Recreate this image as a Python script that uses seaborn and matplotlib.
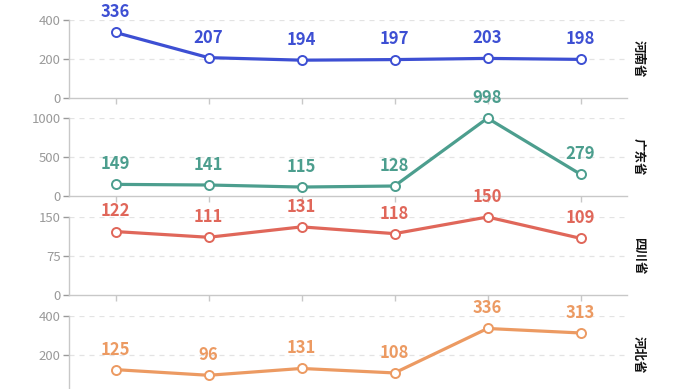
import matplotlib
matplotlib.use("Agg")
import matplotlib.pyplot as plt
import seaborn as sns
import pandas as pd

categories = ["1", "2", "3", "4", "5", "6"]
provinces = ["河南省", "广东省", "四川省", "河北省"]
henan = [336, 207, 194, 197, 203, 198]
guangdong = [149, 141, 115, 128, 998, 279]
sichuan = [122, 111, 131, 118, 150, 109]
hebei = [125, 96, 131, 108, 336, 313]
series = [henan, guangdong, sichuan, hebei]
colors = ["#3d4fd3", "#4c9e8e", "#e0675a", "#ec9a62"]
ylims = [400, 1000, 150, 400]
yticks = [[0, 200, 400], [0, 500, 1000], [0, 75, 150], [200, 400]]

sns.set_theme(style="white")
plt.rcParams['font.family'] = ['Noto Sans CJK SC', 'DejaVu Sans']

fig = plt.figure(figsize=(6.9, 3.89), dpi=100)
W, H = 690, 389
left, width = 69 / W, 558 / W
tops = [20, 118, 217, 316]
ph = 78

for i, (name, vals, col, ymax, yt) in enumerate(zip(provinces, series, colors, ylims, yticks)):
    top = tops[i]
    ax = fig.add_axes([left, 1 - (top + ph) / H, width, ph / H])
    df = pd.DataFrame({"cat": categories, "val": vals})
    df["x"] = range(len(categories))
    sns.lineplot(data=df, x="x", y="val", ax=ax, color=col, linewidth=2.3,
                 marker="o", markersize=6.5, markerfacecolor="white",
                 markeredgecolor=col, markeredgewidth=1.4, clip_on=False, zorder=5)
    ax.set_xlim(-0.5, len(categories) - 0.5)
    ax.set_ylim(0, ymax)
    ax.set_yticks(yt)
    ax.set_yticklabels([str(t) for t in yt])
    ax.set_xticks(range(len(categories)))
    ax.set_xticklabels([])
    ax.set_xlabel("")
    ax.set_ylabel("")
    for s in ["top", "right"]:
        ax.spines[s].set_visible(False)
    for s in ["left", "bottom"]:
        ax.spines[s].set_color("#c8c8c8")
        ax.spines[s].set_linewidth(1.0)
    ax.tick_params(axis="y", colors="#9a9a9a", labelsize=9.5, length=4, width=1, pad=2, left=True)
    ax.tick_params(axis="x", colors="#c8c8c8", length=4, width=1, bottom=True)
    for t in yt:
        if t > 0:
            ax.axhline(t, color="#e3e3e3", linestyle=(0, (4, 4)), linewidth=0.9, zorder=0)
    for x, v in zip(df["x"], vals):
        ax.annotate(str(v), (x, v), xytext=(0, 8), textcoords="offset points",
                    ha="center", va="bottom", color=col, fontsize=12, fontweight="bold",
                    zorder=6)
    ax.text(1.02, 0.5, name, transform=ax.transAxes, rotation=-90,
            ha="center", va="center", fontsize=9, color="#111111", fontweight="bold")
    ax.patch.set_alpha(0)

fig.savefig("out.png", dpi=100)
